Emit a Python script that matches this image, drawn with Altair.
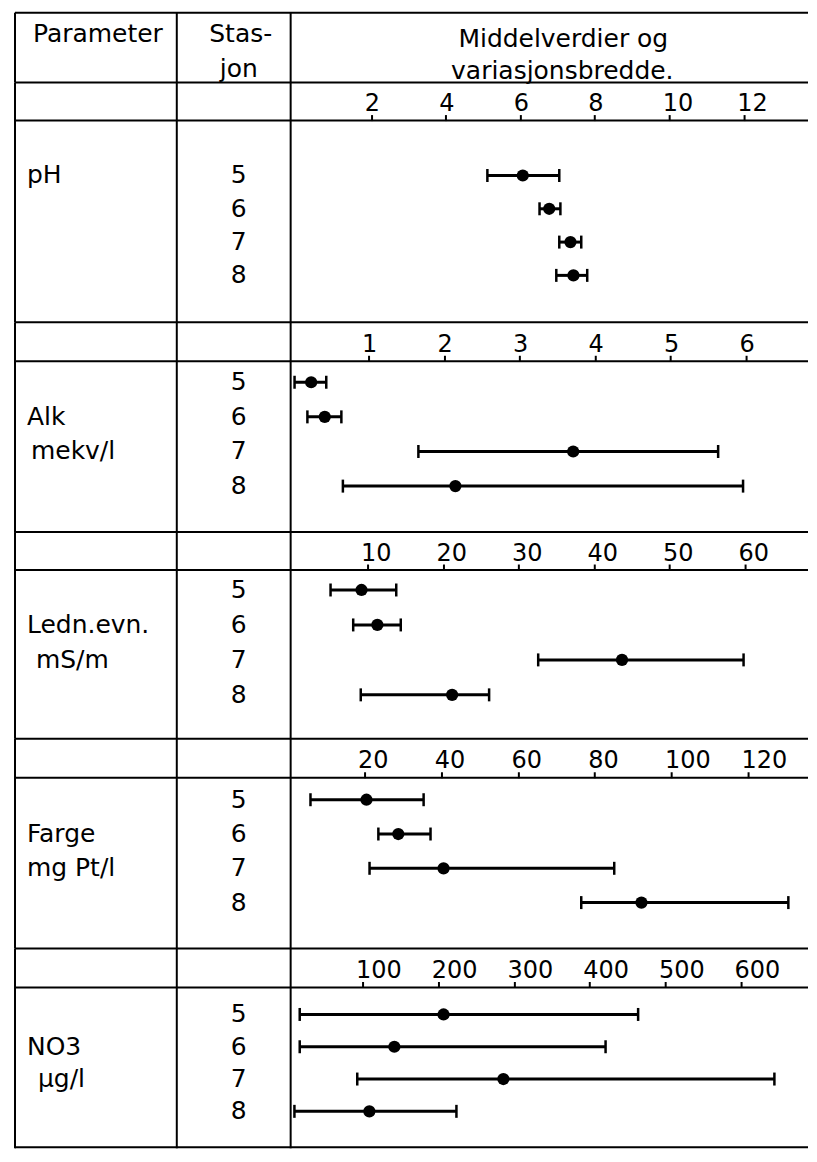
import altair as alt
import pandas as pd

# ---------------- data ----------------
stations = ["5", "6", "7", "8"]

ph_min = [5.12, 6.52, 7.05, 6.97]
ph_mean = [6.07, 6.78, 7.35, 7.43]
ph_max = [7.05, 7.08, 7.64, 7.80]
ph_ticks = [2, 4, 6, 8, 10, 12]

alk_min = [0.02, 0.19, 1.66, 0.66]
alk_mean = [0.24, 0.42, 3.71, 2.15]
alk_max = [0.44, 0.64, 5.63, 5.96]
alk_ticks = [1, 2, 3, 4, 5, 6]

ledn_min = [5.1, 8.1, 32.6, 9.1]
ledn_mean = [9.2, 11.3, 43.7, 21.2]
ledn_max = [13.8, 14.4, 59.8, 26.1]
ledn_ticks = [10, 20, 30, 40, 50, 60]

farge_min = [5.9, 23.6, 21.3, 76.5]
farge_mean = [20.5, 28.8, 40.6, 92.2]
farge_max = [35.4, 37.2, 85.1, 130.5]
farge_ticks = [20, 40, 60, 80, 100, 120]

no3_min = [17, 17, 93, 10]
no3_mean = [207, 142, 286, 109]
no3_max = [464, 421, 644, 224]
no3_ticks = [100, 200, 300, 400, 500, 600]

header_parameter = "Parameter"
header_station = ["Stas-", "jon"]
header_values = ["Middelverdier og", "variasjonsbredde."]

# (parameter name, unit, station row they sit on)
ph_labels = ("pH", None, "5", None)
alk_labels = ("Alk", "mekv/l", "6", "7")
ledn_labels = ("Ledn.evn.", "mS/m", "6", "7")
farge_labels = ("Farge", "mg Pt/l", "6", "7")
no3_labels = ("NO3", "\u00b5g/l", "6", "7")

# ---------------- layout / style ----------------
W = 801
FONT = "DejaVu Sans"
INK = "#000000"
LW = 2
X_LEFT, X_DIV1, X_DIV2 = 7, 169, 283
ONE = pd.DataFrame({"k": [0]})


def hline(y, x0=X_LEFT, x1=W):
    return alt.Chart(ONE).mark_rule(color=INK, strokeWidth=LW).encode(
        x=alt.value(x0), x2=alt.value(x1), y=alt.value(y))


def vline(x, y0, y1):
    return alt.Chart(ONE).mark_rule(color=INK, strokeWidth=LW).encode(
        x=alt.value(x), y=alt.value(y0), y2=alt.value(y1))


def label(text, x, y, align="left", size=25):
    return alt.Chart(ONE).mark_text(
        text=text, font=FONT, fontSize=size, color=INK, align=align, baseline="middle"
    ).encode(x=alt.value(x), y=alt.value(y))


# header
HH = 74
header = alt.layer(
    hline(4),
    vline(X_LEFT, 4, HH), vline(X_DIV1, 4, HH), vline(X_DIV2, 4, HH),
    label(header_parameter, 25, 25),
    label(header_station[0], 233, 25, "center"),
    label(header_station[1], 231, 60, "center"),
    label(header_values[0], 556, 30, "center"),
    label(header_values[1], 555, 62, "center"),
).properties(width=W, height=HH)


def section(mins, means, maxs, ticks, labels, unit_x, x0, xmax, height, line_y, y_first, y_last, bottom=False):
    df = pd.DataFrame({"stasjon": stations, "lo": mins, "mid": means, "hi": maxs})
    xs = alt.Scale(domain=[0, xmax], range=[x0, W], nice=False, zero=False)
    ys = alt.Scale(type="point", domain=stations, range=[y_first, y_last], padding=0)
    xaxis = alt.Axis(
        orient="top", values=ticks, format="d", offset=-line_y, domain=False, grid=False,
        ticks=True, tickSize=6, tickWidth=2, tickColor=INK,
        labelFont=FONT, labelFontSize=24, labelColor=INK, labelAlign="left",
        labelOffset=-7, labelPadding=-1, labelFlush=False, labelOverlap=False,
        title=None,
    )
    base = alt.Chart(df)
    yenc = alt.Y("stasjon:O", scale=ys, axis=None)
    bars = base.mark_rule(strokeWidth=3, color=INK).encode(
        x=alt.X("lo:Q", scale=xs, axis=xaxis), x2="hi:Q", y=yenc)
    cap_lo = base.mark_tick(size=13, thickness=2.5, color=INK, opacity=1).encode(
        x=alt.X("lo:Q", scale=xs), y=yenc)
    cap_hi = base.mark_tick(size=13, thickness=2.5, color=INK, opacity=1).encode(
        x=alt.X("hi:Q", scale=xs), y=yenc)
    dots = base.mark_circle(size=150, color=INK, opacity=1).encode(
        x=alt.X("mid:Q", scale=xs), y=yenc)
    st_text = base.mark_text(font=FONT, fontSize=25, color=INK, align="center", baseline="middle").encode(
        x=alt.value(231), y=yenc, text="stasjon:N")
    name, unit, name_row, unit_row = labels
    n_text = alt.Chart(pd.DataFrame({"txt": [name], "stasjon": [name_row]})).mark_text(
        font=FONT, fontSize=25, color=INK, align="left", baseline="middle").encode(
        x=alt.value(19), y=yenc, text="txt:N")
    parts = [
        hline(0), hline(line_y),
        vline(X_LEFT, 0, height), vline(X_DIV1, 0, height), vline(X_DIV2, 0, height),
    ]
    if bottom:
        parts.append(hline(height - 1))
    parts += [bars, cap_lo, cap_hi, dots, st_text, n_text]
    if unit is not None:
        u_text = alt.Chart(pd.DataFrame({"txt": [unit], "stasjon": [unit_row]})).mark_text(
            font=FONT, fontSize=25, color=INK, align="left", baseline="middle").encode(
            x=alt.value(unit_x), y=yenc, text="txt:N")
        parts.append(u_text)
    return alt.layer(*parts).properties(width=W, height=height)


s_ph = section(ph_min, ph_mean, ph_max, ph_ticks, ph_labels, 19, 289, (W - 289) / 37.3, 240, 38, 93, 193)
s_alk = section(alk_min, alk_mean, alk_max, alk_ticks, alk_labels, 23, 285.4, (W - 285.4) / 75.6, 210, 39, 60, 164)
s_ledn = section(ledn_min, ledn_mean, ledn_max, ledn_ticks, ledn_labels, 28, 284.4, (W - 284.4) / 7.56, 207, 38, 58, 163)
s_farge = section(farge_min, farge_mean, farge_max, farge_ticks, farge_labels, 19, 280.2, (W - 280.2) / 3.84, 210, 39, 61, 164)
s_no3 = section(no3_min, no3_mean, no3_max, no3_ticks, no3_labels, 30, 279.2, (W - 279.2) / 0.758, 200, 39, 66, 163, bottom=True)

chart = alt.vconcat(header, s_ph, s_alk, s_ledn, s_farge, s_no3, spacing=0, bounds="flush").properties(
    padding=0
).configure_view(stroke=None)

chart.save("out.html", embed_options={"renderer": "svg", "actions": False})
